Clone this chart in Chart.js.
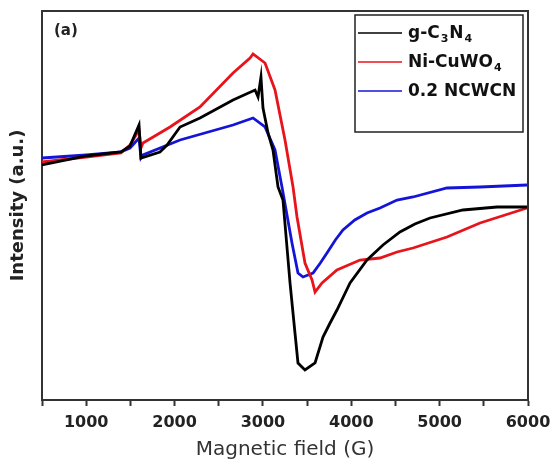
<!DOCTYPE html>
<html>
<head>
<meta charset="utf-8">
<script src="https://cdn.jsdelivr.net/npm/chart.js@4.4.0/dist/chart.umd.min.js"></script>
<style>
  html, body { margin: 0; padding: 0; background: #fff; }
  #wrap { width: 553px; height: 466px; }
</style>
</head>
<body>
<div id="wrap"><canvas id="epr" width="553" height="466"></canvas></div>
<script>
// values (field in G, intensity in arbitrary units)
const xTicks = [1000, 2000, 3000, 4000, 5000, 6000];

const gcnField = [500, 1000, 1394, 1496, 1598, 1620, 1835, 1915, 2062, 2288, 2662, 2911, 2945, 2978, 3001, 3058, 3114, 3171, 3227, 3307, 3363, 3397, 3476, 3590, 3680, 3760, 3838, 3986, 4178, 4359, 4551, 4720, 4891, 5264, 5649, 5989];
const gcnInt   = [235, 244, 248, 254, 275, 242, 248, 255, 273, 282, 300, 310, 303, 323, 292, 267, 250, 213, 200, 117, 67, 37, 30, 37, 63, 77, 90, 117, 140, 155, 168, 176, 182, 190, 193, 193];

const cwField = [500, 1000, 1394, 1496, 1598, 1620, 1643, 1949, 2288, 2662, 2854, 2888, 3024, 3137, 3250, 3341, 3386, 3476, 3556, 3590, 3669, 3838, 4099, 4325, 4518, 4699, 5083, 5457, 5989];
const cwInt   = [238, 243, 247, 255, 270, 252, 257, 273, 293, 327, 342, 346, 337, 310, 260, 213, 183, 137, 120, 108, 117, 130, 140, 142, 148, 152, 163, 177, 192];

const ncwField = [500, 1000, 1394, 1496, 1598, 1620, 1643, 2062, 2662, 2888, 3024, 3137, 3216, 3329, 3397, 3454, 3567, 3650, 3725, 3820, 3906, 4040, 4178, 4325, 4518, 4699, 5083, 5457, 5989];
const ncwInt   = [242, 245, 248, 252, 262, 242, 245, 260, 275, 282, 273, 250, 213, 157, 127, 123, 127, 137, 147, 160, 170, 180, 187, 192, 200, 203, 212, 213, 215];

function pts(xs, ys) {
  return xs.map((x, i) => ({x: x, y: ys[i]}));
}

const legendRows = [
  {color: '#000000', parts: [['g-C', 0], ['3', 1], ['N', 0], ['4', 1]]},
  {color: '#e8141c', parts: [['Ni-CuWO', 0], ['4', 1]]},
  {color: '#1414d8', parts: [['0.2 NCWCN', 0]]}
];

const framePlugin = {
  id: 'frame',
  afterDraw(chart) {
    const ctx = chart.ctx;
    const a = chart.chartArea;
    ctx.save();
    ctx.strokeStyle = '#333';
    ctx.lineWidth = 2;
    ctx.beginPath();
    ctx.moveTo(a.left, a.top);
    ctx.lineTo(a.right, a.top);
    ctx.lineTo(a.right, a.bottom);
    ctx.stroke();

    // panel label
    ctx.fillStyle = '#222';
    ctx.font = 'bold 15px "DejaVu Sans"';
    ctx.textBaseline = 'middle';
    ctx.fillText('(a)', 54, 31);

    // legend box
    ctx.strokeStyle = '#222';
    ctx.lineWidth = 1.5;
    ctx.strokeRect(355, 15, 168, 117);
    legendRows.forEach((row, i) => {
      const y = 33 + i * 29;
      ctx.strokeStyle = row.color;
      ctx.lineWidth = 1.5;
      ctx.beginPath();
      ctx.moveTo(358, y);
      ctx.lineTo(402, y);
      ctx.stroke();
      let x = 408;
      row.parts.forEach(p => {
        ctx.fillStyle = '#111';
        if (p[1]) {
          ctx.font = 'bold 11px "DejaVu Sans"';
          ctx.fillText(p[0], x + 1, y + 6);
          x += ctx.measureText(p[0]).width + 2;
        } else {
          ctx.font = 'bold 17px "DejaVu Sans"';
          ctx.fillText(p[0], x, y + 1);
          x += ctx.measureText(p[0]).width;
        }
      });
    });
    ctx.restore();
  }
};

new Chart(document.getElementById('epr'), {
  type: 'line',
  data: {
    datasets: [
      {label: 'g-C3N4', data: pts(gcnField, gcnInt), borderColor: legendRows[0].color},
      {label: 'Ni-CuWO4', data: pts(cwField, cwInt), borderColor: legendRows[1].color},
      {label: '0.2 NCWCN', data: pts(ncwField, ncwInt), borderColor: legendRows[2].color}
    ]
  },
  options: {
    responsive: false,
    animation: false,
    layout: {padding: {top: 11, right: 25, left: 0, bottom: 0}},
    elements: {
      line: {borderWidth: 2.8, tension: 0},
      point: {radius: 0}
    },
    plugins: {legend: {display: false}, tooltip: {enabled: false}},
    scales: {
      x: {
        type: 'linear',
        min: 500,
        max: 6000,
        afterFit: s => { s.height = 66; s.paddingLeft = 0; s.paddingRight = 0; },
        border: {color: '#333', width: 2},
        grid: {drawOnChartArea: false, tickLength: 6, tickColor: '#333', tickWidth: 2},
        ticks: {
          stepSize: 500,
          autoSkip: false,
          maxRotation: 0,
          padding: 7,
          color: '#222',
          font: {family: 'DejaVu Sans', size: 16, weight: 'bold'},
          callback: v => (v % 1000 === 0 && xTicks.includes(v)) ? String(v) : ''
        },
        title: {
          display: true,
          text: 'Magnetic field (G)',
          color: '#333',
          padding: {top: 0, bottom: 4},
          font: {family: 'DejaVu Sans', size: 20}
        }
      },
      y: {
        min: 0,
        max: 389,
        afterFit: s => { s.width = 42; s.paddingTop = 0; s.paddingBottom = 0; },
        border: {color: '#333', width: 2},
        grid: {display: false},
        ticks: {display: false},
        title: {
          display: true,
          text: 'Intensity (a.u.)',
          color: '#222',
          padding: {top: 8, bottom: 0},
          font: {family: 'DejaVu Sans', size: 18, weight: 'bold'}
        }
      }
    }
  },
  plugins: [framePlugin]
});
</script>
</body>
</html>
